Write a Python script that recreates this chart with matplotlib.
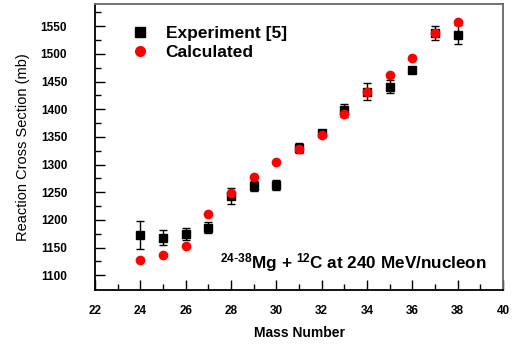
import matplotlib
matplotlib.use("Agg")
from matplotlib import pyplot as plt
from matplotlib.lines import Line2D

mass = [24, 25, 26, 27, 28, 29, 30, 31, 32, 33, 34, 35, 36, 37, 38]
experiment = [1173, 1168, 1175, 1186, 1243, 1262, 1263, 1330, 1357, 1398, 1432, 1441, 1471, 1538, 1535]
exp_error = [25, 13, 11, 10, 15, 9, 9, 9, 5, 12, 16, 11, 4, 13, 17]
calculated = [1128, 1136, 1153, 1210, 1248, 1277, 1304, 1328, 1353, 1391, 1432, 1462, 1493, 1538, 1558]

plt.rcParams['font.family'] = ['Liberation Sans', 'DejaVu Sans']
plt.rcParams['mathtext.default'] = 'regular'

fig = plt.figure(figsize=(5.12, 3.45), dpi=100)
ax = fig.add_axes([0.1855, 0.159, 0.797, 0.829])

ax.errorbar(mass, experiment, yerr=exp_error, fmt='s', color='black', markersize=5.5,
            ecolor='black', elinewidth=1, capsize=3, capthick=1, zorder=2)
ax.plot(mass, calculated, 'o', color='red', markersize=7, markeredgewidth=0, zorder=3)

ax.set_xlim(22, 40)
ax.set_ylim(1073, 1590)
ax.set_xticks(range(22, 41, 2))
ax.set_xticks(range(23, 40, 2), minor=True)
ax.set_yticks(range(1100, 1551, 50))
ax.set_yticks(range(1125, 1590, 50), minor=True)
ax.tick_params(direction='in', which='major', length=7, width=1, labelsize=8.5)
ax.tick_params(direction='in', which='minor', length=4, width=1)
ax.tick_params(axis='y', which='major', pad=20)
ax.tick_params(axis='x', which='major', pad=11)
ax.tick_params(top=False, right=False, which='both')
for lab in ax.get_xticklabels() + ax.get_yticklabels():
    lab.set_fontweight('bold')

for s in ['left', 'bottom']:
    ax.spines[s].set_linewidth(1.3)
for s in ['top', 'right']:
    ax.spines[s].set_color('#666666')
    ax.spines[s].set_linewidth(1.3)

ax.set_xlabel('Mass Number', fontsize=10, fontweight='bold', labelpad=6)
ax.set_ylabel('Reaction Cross Section (mb)', fontsize=10.5, labelpad=8)

ax.text(0.307, 0.075, r'$^{24\text{-}38}$Mg + $^{12}$C at 240 MeV/nucleon', transform=ax.transAxes,
        fontsize=12.3, fontweight='bold')

handles = [Line2D([], [], marker='s', color='black', linestyle='none', markersize=7),
           Line2D([], [], marker='o', color='red', linestyle='none', markersize=8, markeredgewidth=0)]
ax.legend(handles, ['Experiment [5]', 'Calculated'], loc='upper left', bbox_to_anchor=(0.05, 0.98),
          frameon=False, prop={'weight': 'bold', 'size': 12.5}, handletextpad=1.0,
          labelspacing=0.25, handlelength=1.0)

plt.savefig('out.png', dpi=100)
